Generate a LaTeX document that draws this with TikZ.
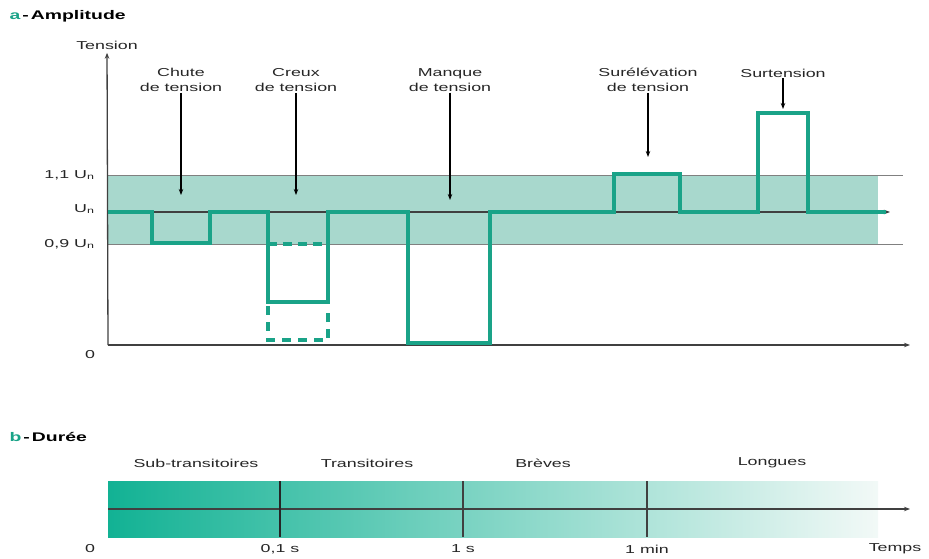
\documentclass[tikz,border=0pt]{standalone}
\usepackage{fontspec}
\usetikzlibrary{arrows.meta}
\setmainfont[FakeStretch=1.55]{Liberation Sans}
\definecolor{signal}{RGB}{26,163,136}
\definecolor{bande}{RGB}{168,216,205}
\definecolor{debut}{RGB}{18,178,148}
\definecolor{fin}{RGB}{242,249,247}
\begin{document}
\begin{tikzpicture}[x=1pt, y=-1pt, >={Stealth[length=6pt,width=4.5pt]}, font=\fontsize{11.5}{15}\selectfont, text=black!85,
  sig/.style={signal, line width=3.3pt},
  axe/.style={black!75, line width=1.3pt},
  lab/.style={align=center, inner sep=1pt},
  titre/.style={anchor=west, font=\fontsize{12.5}{14}\selectfont\bfseries, text=black}]
\useasboundingbox (0,0) rectangle (929,559);
% a - amplitude
\node[titre] (titreA) at (6,16) {\textcolor{signal}{a}\,-\,Amplitude};
\fill[bande] (108,175) rectangle (878,244);
\draw[gray, line width=1pt] (108,175) -- (903,175);
\draw[gray, line width=1pt] (108,244) -- (903,244);
\coordinate (O) at (108,345);
\node (tension) at (107,45) {Tension};
\draw[->, axe] (O) -- (tension);
\coordinate (fx) at (910,345);
\draw[->, axe] (O) -- (fx);
\coordinate (un) at (108,212);
\coordinate (fun) at (890,212);
\draw[->, axe] (un) -- (fun);
\node[anchor=east] (h) at (98,175) {1,1 U\textsubscript{n}};
\node[anchor=east] (n) at (98,209) {U\textsubscript{n}};
\node[anchor=east] (b) at (98,244) {0,9 U\textsubscript{n}};
\node (zero) at (90,355) {0};
% signal
\draw[sig] (108,212) -| (152,243) -| (210,212) -| (268,302) -| (328,212) -| (408,343) -| (490,212)
  -| (614,174) -| (680,212) -| (758,113) -| (808,212) -- (886,212);
\draw[sig, dash pattern=on 9pt off 6pt] (268,244) -- (328,244);
\draw[sig, dash pattern=on 9pt off 7pt] (268,306) |- (328,340) -- (328,306);
% fleches
\node[lab] (chute) at (181,80) {Chute\\de tension};
\coordinate (pchute) at (181,195);
\node[lab] (creux) at (296,80) {Creux\\de tension};
\coordinate (pcreux) at (296,195);
\node[lab] (manque) at (450,80) {Manque\\de tension};
\coordinate (pmanque) at (450,200);
\node[lab] (surel) at (648,80) {Surélévation\\de tension};
\coordinate (psurel) at (648,157);
\node[lab] (surt) at (783,73) {Surtension};
\coordinate (psurt) at (783,109);
\foreach \a in {chute,creux,manque,surel,surt}
{
    \draw[->, line width=1.3pt] (\a) -- (p\a);
}
% b - duree
\node[titre] (titreB) at (6,437) {\textcolor{signal}{b}\,-\,Durée};
\shade[left color=debut, right color=fin] (108,481) rectangle (878,537);
\coordinate (T0) at (108,509);
\coordinate (fT) at (910,509);
\draw[->, axe] (T0) -- (fT);
\draw[line width=2.2pt, black!85] (280,481) -- (280,537);
\foreach \x in {463,647}
{
    \draw[line width=1.4pt, black!75] (\x,481) -- (\x,537);
}
\node (sub) at (196,463) {Sub-transitoires};
\node (trans) at (367,463) {Transitoires};
\node (breves) at (543,463) {Brèves};
\node (longues) at (772,463) {Longues};
\node (t0) at (90,549) {0};
\node (t1) at (280,549) {0,1 s};
\node (t2) at (463,549) {1 s};
\node (t3) at (647,549) {1 min};
\node (temps) at (895,549) {Temps};
\end{tikzpicture}
\end{document}
